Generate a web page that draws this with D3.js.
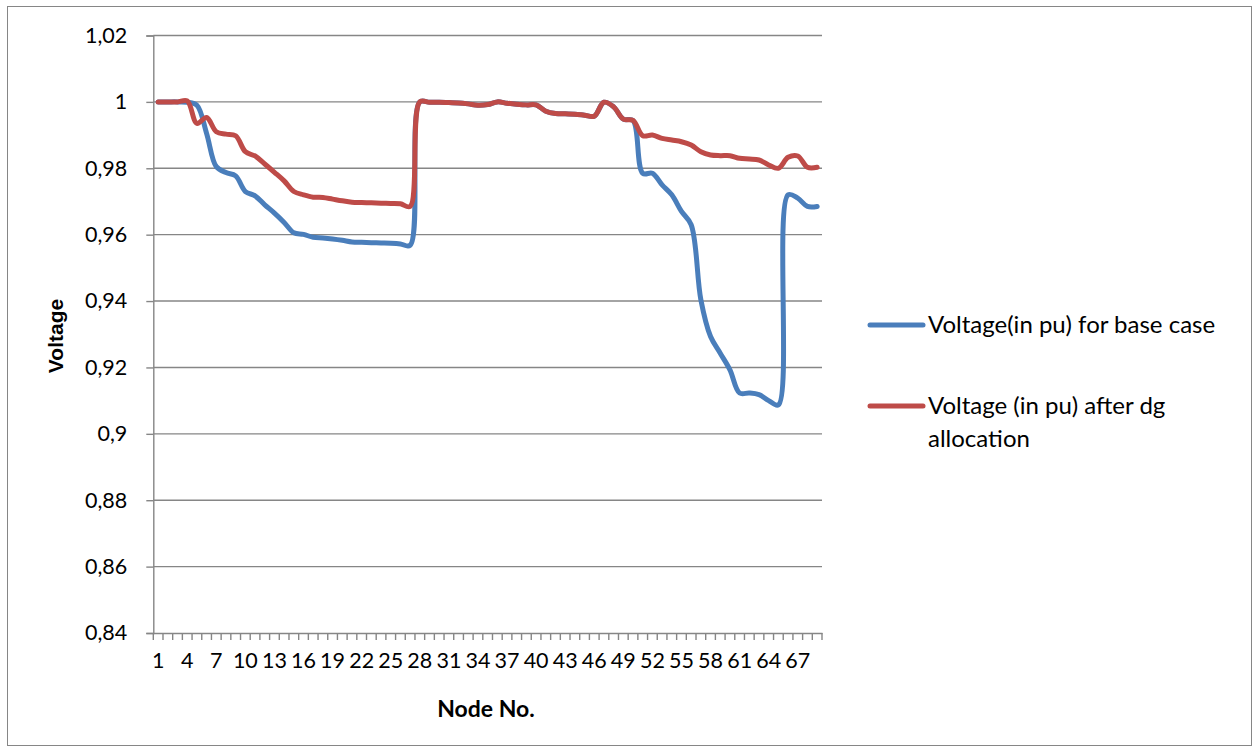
<!DOCTYPE html>
<html>
<head>
<meta charset="utf-8">
<script src="https://cdn.jsdelivr.net/npm/d3@7"></script>
<style>
  body { margin: 0; background: #fff; }
  text { font-family: Lato, "Open Sans", sans-serif; fill: #000; }
</style>
</head>
<body>
<svg id="chart"></svg>
<script>
// node numbers 1..69
const nodes = d3.range(1, 70);

const baseCase = [
  1.0000, 1.0000, 1.0000, 0.9999, 0.9990, 0.9905, 0.9805, 0.9787, 0.9777, 0.9730,
  0.9717, 0.9690, 0.9665, 0.9637, 0.9606, 0.9601, 0.9592, 0.9590, 0.9587, 0.9583,
  0.9578, 0.9577, 0.9576, 0.9575, 0.9574, 0.9572, 0.9568, 1.0000, 0.9999, 0.9999,
  0.9998, 0.9997, 0.9994, 0.9990, 0.9992, 1.0000, 0.9996, 0.9993, 0.9991, 0.9991,
  0.9972, 0.9965, 0.9964, 0.9963, 0.9960, 0.9957, 0.9999, 0.9985, 0.9948, 0.9944,
  0.9785, 0.9785, 0.9750, 0.9720, 0.9670, 0.9630, 0.9404, 0.9293, 0.9243, 0.9193,
  0.9123, 0.9123, 0.9118, 0.9100, 0.9087, 0.9720, 0.9710, 0.9685, 0.9685
];

const afterDg = [
  1.0000, 1.0000, 1.0000, 1.0003, 0.9935, 0.9953, 0.9910, 0.9903, 0.9898, 0.9850,
  0.9837, 0.9813, 0.9788, 0.9762, 0.9730, 0.9720, 0.9713, 0.9712, 0.9707, 0.9702,
  0.9698, 0.9697, 0.9696, 0.9695, 0.9694, 0.9693, 0.9685, 1.0000, 0.9999, 0.9999,
  0.9998, 0.9997, 0.9994, 0.9990, 0.9992, 1.0000, 0.9996, 0.9993, 0.9991, 0.9991,
  0.9972, 0.9965, 0.9964, 0.9963, 0.9960, 0.9957, 0.9999, 0.9985, 0.9948, 0.9944,
  0.9898, 0.9900, 0.9890, 0.9885, 0.9880, 0.9870, 0.9850, 0.9840, 0.9838, 0.9838,
  0.9830, 0.9828, 0.9825, 0.9810, 0.9800, 0.9833, 0.9837, 0.9803, 0.9803
];

const seriesNames = ["Voltage(in pu) for base case", "Voltage (in pu) after dg allocation"];
const yTicks = [0.84, 0.86, 0.88, 0.9, 0.92, 0.94, 0.96, 0.98, 1, 1.02];
const xLabelNodes = nodes.filter(n => (n - 1) % 3 === 0);

const W = 1259, H = 753;
const svg = d3.select('#chart').attr('width', W).attr('height', H);

const plot = { left: 153.3, right: 822, top: 35.5, bottom: 633 };
const gridColor = '#868686';

// outer border
svg.append('rect')
  .attr('x', 7.5).attr('y', 6.5)
  .attr('width', W - 15).attr('height', H - 14)
  .attr('fill', 'none').attr('stroke', gridColor).attr('stroke-width', 1);

const x = d3.scaleBand().domain(nodes).range([plot.left, plot.right]).padding(0);
const cx = n => x(n) + x.bandwidth() / 2;
const y = d3.scaleLinear().domain([0.84, 1.02]).range([plot.bottom, plot.top]);

const fmt = v => String(+v.toFixed(2)).replace('.', ',');

// gridlines
svg.append('g')
  .selectAll('line')
  .data(yTicks.filter(v => v > 0.84))
  .join('line')
  .attr('x1', plot.left).attr('x2', plot.right)
  .attr('y1', d => y(d)).attr('y2', d => y(d))
  .attr('stroke', gridColor).attr('stroke-width', 1.4);

// y axis
const yAxis = svg.append('g')
  .attr('transform', `translate(${plot.left},0)`)
  .call(d3.axisLeft(y).tickValues(yTicks).tickFormat(fmt).tickSize(7).tickPadding(19));
yAxis.select('.domain').attr('stroke', gridColor).attr('stroke-width', 1.4);
yAxis.selectAll('.tick line').attr('stroke', gridColor).attr('stroke-width', 1.4);
yAxis.selectAll('.tick text').style('font-size', '21.5px');

// x axis
const xAxis = svg.append('g')
  .attr('transform', `translate(0,${plot.bottom})`)
  .call(d3.axisBottom(x).tickValues(xLabelNodes).tickSize(0).tickPadding(20).tickSizeOuter(0));
xAxis.select('.domain').attr('stroke', gridColor).attr('stroke-width', 1.4);
xAxis.selectAll('.tick text').style('font-size', '21.5px');

// category boundary ticks
svg.append('g')
  .selectAll('line')
  .data(nodes.map(n => x(n)).concat([plot.right]))
  .join('line')
  .attr('x1', d => d).attr('x2', d => d)
  .attr('y1', plot.bottom).attr('y2', plot.bottom + 7)
  .attr('stroke', gridColor).attr('stroke-width', 1.4);

// lines
const line = d3.line()
  .x((d, i) => cx(nodes[i]))
  .y(d => y(d))
  .curve(d3.curveCatmullRom.alpha(0.5));

const colors = ['#4A7EBB', '#BE4B48'];
[baseCase, afterDg].forEach((s, i) => {
  svg.append('path')
    .datum(s)
    .attr('fill', 'none')
    .attr('stroke', colors[i])
    .attr('stroke-width', 5)
    .attr('stroke-linejoin', 'round')
    .attr('stroke-linecap', 'round')
    .attr('d', line);
});

// axis titles
svg.append('text')
  .attr('x', 486).attr('y', 717)
  .attr('text-anchor', 'middle')
  .style('font-size', '23px').style('font-weight', 'bold')
  .text('Node No.');

svg.append('text')
  .attr('transform', 'translate(63,336) rotate(-90)')
  .attr('text-anchor', 'middle')
  .style('font-family', '"Liberation Sans", Arial, sans-serif')
  .style('font-size', '21px').style('font-weight', 'bold')
  .text('Voltage');

// legend
const legend = svg.append('g');
const legendRows = [
  { y: 325, lines: [seriesNames[0]] },
  { y: 406, lines: ['Voltage (in pu) after dg', 'allocation'] }
];
legendRows.forEach((r, i) => {
  legend.append('line')
    .attr('x1', 870).attr('x2', 923)
    .attr('y1', r.y).attr('y2', r.y)
    .attr('stroke', colors[i]).attr('stroke-width', 5)
    .attr('stroke-linecap', 'round');
  r.lines.forEach((t, j) => {
    legend.append('text')
      .attr('x', 928).attr('y', r.y + 8 + j * 33)
      .style('font-size', '24px')
      .text(t);
  });
});
</script>
</body>
</html>
